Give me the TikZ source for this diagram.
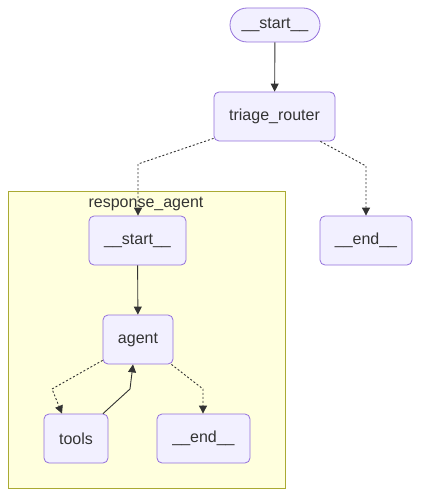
\documentclass[tikz,border=0pt]{standalone}
\usepackage{fontspec}
\setmainfont{Liberation Sans}
\usetikzlibrary{arrows.meta}
\definecolor{nodefill}{HTML}{F2F0FF}
\definecolor{nodeline}{HTML}{9370DB}
\definecolor{clusterfill}{HTML}{FFFFDE}
\definecolor{clusterline}{HTML}{AAAA33}
\definecolor{ink}{HTML}{333333}
\begin{document}
\begin{tikzpicture}[x=1pt, y=-1pt, font=\fontsize{16}{19}\selectfont, text=ink,
    box/.style = {draw=nodeline, fill=nodefill, rounded corners=5pt, line width=0.8pt,
                  minimum height=49pt, inner sep=0pt},
    pill/.style = {box, rounded corners=17pt, minimum height=34pt},
    edge/.style = {draw=ink, line width=0.9pt, -{Triangle[length=8pt,width=8pt]}},
    cond/.style = {edge, dash pattern=on 2pt off 2pt}]
    \useasboundingbox (0,0) rectangle (420,497);
    % subgraph
    \draw [clusterline, fill=clusterfill, line width=0.8pt] (8,191) rectangle (285,488);
    \node (label) at (146,204) {response\_agent};
    % nodes
    \node [pill, minimum width=90pt] (start) at (275,25) {\_\_start\_\_};
    \node [box, minimum width=121pt] (router) at (274.5,116.5) {triage\_router};
    \node [box, minimum width=92pt] (end) at (366,240.5) {\_\_end\_\_};
    \node [box, minimum width=97pt] (substart) at (137.5,240.5) {\_\_start\_\_};
    \node [box, minimum width=70pt] (agent) at (138,339.5) {agent};
    \node [box, minimum width=64pt] (tools) at (76,438.5) {tools};
    \node [box, minimum width=93pt] (subend) at (203.5,438.5) {\_\_end\_\_};
    % bends
    \coordinate (b1) at (138,164);
    \coordinate (b2) at (366,166);
    \coordinate (b3) at (52,389);
    \coordinate (b4) at (130,389);
    \coordinate (b5) at (203,389);
    % edges
    \draw [edge] (start) -- (router);
    \draw [cond] ([yshift=3pt]router.south west) -- (b1) -- (substart.north -| b1);
    \draw [cond] ([xshift=-15pt]router.south east) -- (b2) -- (end.north -| b2);
    \draw [edge] (substart) -- (agent);
    \draw [cond] ([yshift=4pt]agent.south west) -- (b3) -- ([xshift=-14pt]tools.north);
    \draw [edge] ([xshift=27pt]tools.north) -- (b4) -- ([xshift=-5pt]agent.south);
    \draw [cond] ([xshift=-2pt]agent.south east) -- (b5) -- (subend.north -| b5);
\end{tikzpicture}
\end{document}
